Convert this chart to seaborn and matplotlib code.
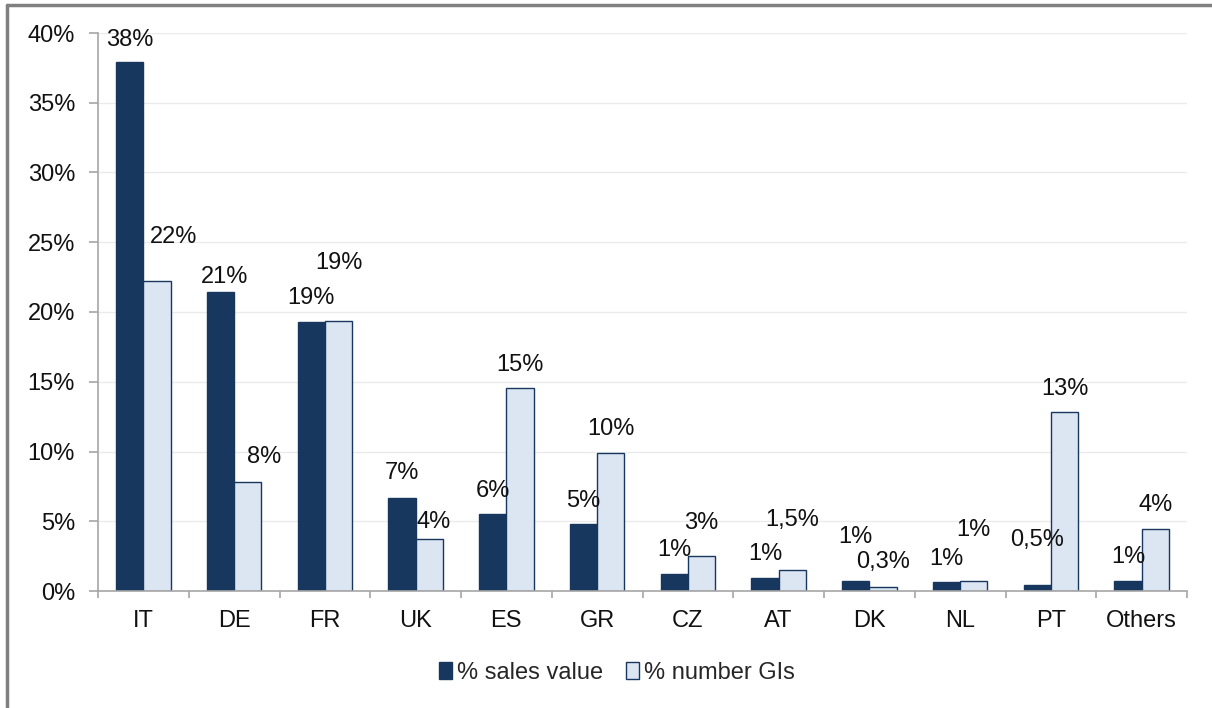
import numpy as np
import pandas as pd
import matplotlib
matplotlib.use("Agg")
import matplotlib.pyplot as plt
import seaborn as sns
from matplotlib.ticker import PercentFormatter, FixedLocator
from matplotlib.lines import Line2D

# dados (em %)
countries = ["IT", "DE", "FR", "UK", "ES", "GR", "CZ", "AT", "DK", "NL", "PT", "Others"]
sales_value = [37.9, 21.4, 19.3, 6.7, 5.5, 4.8, 1.2, 0.9, 0.7, 0.65, 0.45, 0.7]
number_gis = [22.2, 7.8, 19.35, 3.7, 14.55, 9.9, 2.5, 1.5, 0.3, 0.7, 12.8, 4.45]
sales_labels = ["38%", "21%", "19%", "7%", "6%", "5%", "1%", "1%", "1%", "1%", "0,5%", "1%"]
gis_labels = ["22%", "8%", "19%", "4%", "15%", "10%", "3%", "1,5%", "0,3%", "1%", "13%", "4%"]
series_names = ["% sales value", "% number GIs"]

# deslocamento dos rótulos (px) em relação ao topo da barra
sales_offsets = [(0, 22), (4, 15), (0, 24), (0, 25), (0, 23), (0, 23),
                 (0, 24), (0, 24), (0, 44), (0, 23), (0, 45), (0, 24)]
gis_offsets = [(17, 44), (16, 25), (0, 58), (4, 17), (0, 23), (0, 24),
               (0, 33), (0, 50), (0, 25), (0, 51), (0, 23), (0, 24)]

DARK = "#17375e"
LIGHT = "#dce6f2"

df = pd.DataFrame({
    "country": countries * 2,
    "value": sales_value + number_gis,
    "series": [series_names[0]] * len(countries) + [series_names[1]] * len(countries),
})

sns.set_style("white")
plt.rcParams["font.family"] = ["Liberation Sans", "DejaVu Sans"]
FS = 17

fig = plt.figure(figsize=(12.12, 7.08), dpi=100)
ax = fig.add_axes([98 / 1212, 1 - 591 / 708, (1187 - 98) / 1212, (591 - 33) / 708])

sns.barplot(data=df, x="country", y="value", hue="series", palette=[DARK, LIGHT],
            width=0.6, gap=0, saturation=1, edgecolor=DARK, linewidth=1, ax=ax)

# rótulos dos valores
for cont, labels, offs in zip(ax.containers, [sales_labels, gis_labels], [sales_offsets, gis_offsets]):
    for bar, lab, (dx, dy) in zip(cont, labels, offs):
        ax.annotate(lab, (bar.get_x() + bar.get_width() / 2, bar.get_height()),
                    xytext=(dx * 0.72, dy * 0.72), textcoords="offset points",
                    ha="center", va="center", fontsize=FS, color="#111111")

ax.set_ylim(0, 40)
ax.set_yticks(np.arange(0, 41, 5))
ax.yaxis.set_major_formatter(PercentFormatter(xmax=100, decimals=0))
ax.set_xlim(-0.5, len(countries) - 0.5)
ax.xaxis.set_minor_locator(FixedLocator(np.arange(-0.5, len(countries), 1.0)))
ax.set_xlabel("")
ax.set_ylabel("")

ax.yaxis.grid(True, color="#ebebeb", linewidth=1)
ax.set_axisbelow(True)
for s in ["top", "right"]:
    ax.spines[s].set_visible(False)
for s in ["left", "bottom"]:
    ax.spines[s].set_color("#a6a6a6")
    ax.spines[s].set_linewidth(1.2)

ax.tick_params(axis="y", which="major", left=True, length=6.5, width=1.2, color="#a6a6a6",
               pad=10, labelsize=FS, labelcolor="#111111")
ax.tick_params(axis="x", which="major", bottom=False, length=0, pad=14,
               labelsize=FS, labelcolor="#111111")
ax.tick_params(axis="x", which="minor", bottom=True, length=5, width=1.2, color="#a6a6a6")

# legenda embaixo
handles, labels = ax.get_legend_handles_labels()
if ax.get_legend() is not None:
    ax.get_legend().remove()
fig.legend(handles, labels, loc="center", bbox_to_anchor=(617 / 1212, 1 - 673 / 708),
           ncol=2, frameon=False, fontsize=FS, handlelength=0.55, handleheight=0.7,
           handletextpad=0.2, columnspacing=1.0)

# moldura cinza (topo e esquerda)
fig.add_artist(Line2D([7 / 1212, 1], [1 - 5 / 708, 1 - 5 / 708], transform=fig.transFigure,
                      color="#808080", linewidth=2.5))
fig.add_artist(Line2D([7 / 1212, 7 / 1212], [0, 1 - 5 / 708], transform=fig.transFigure,
                      color="#808080", linewidth=2.5))

fig.savefig("out.png", dpi=100)
